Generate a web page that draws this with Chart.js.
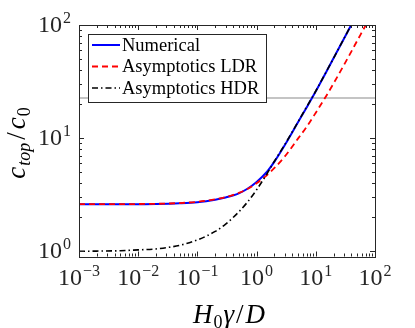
<!DOCTYPE html>
<html>
<head>
<meta charset="utf-8">
<script src="https://cdn.jsdelivr.net/npm/chart.js@4.4.0/dist/chart.umd.min.js"></script>
<style>
  html, body { margin: 0; padding: 0; background: #fff; }
  #wrap { width: 415px; height: 328px; }
</style>
</head>
<body>
<div id="wrap"><canvas id="chart" width="415" height="328"></canvas></div>
<script>
// values
const xVals = [0.001, 0.002, 0.005, 0.01, 0.02, 0.05, 0.1, 0.2, 0.3, 0.5, 0.7, 1, 1.5, 2, 3, 5, 7, 10, 15, 20, 30, 40, 50, 70, 100];
const numerical = [2.60, 2.60, 2.60, 2.61, 2.62, 2.66, 2.72, 2.86, 2.99, 3.25, 3.57, 4.1, 5.05, 6.2, 8.7, 13.8, 18.7, 26, 38.5, 51, 76, 101, 126, null, null];
const ldr = [2.61, 2.61, 2.61, 2.62, 2.63, 2.67, 2.74, 2.88, 3.01, 3.28, 3.56, 4.0, 4.72, 5.45, 6.9, 9.9, 12.6, 16.8, 23.6, 30.5, 44.5, 58.5, 72.5, 100, 142];
const hdr = [1.0, 1.005, 1.012, 1.03, 1.05, 1.13, 1.26, 1.5, 1.74, 2.23, 2.72, 3.5, 4.85, 6.25, 8.8, 13.9, 18.9, 26.1, 38.6, 51, 76, 101, 126, null, null];
const thresholdX = [0.001, 100];
const thresholdY = [22.6, 22.6];
const xDecades = [-3, -2, -1, 0, 1, 2];
const yDecades = [0, 1, 2];
const legendLabels = ['Numerical', 'Asymptotics LDR', 'Asymptotics HDR'];

const SERIF = '"Liberation Serif", "Times New Roman", serif';

function toPoints(xs, ys) {
  return xs.map((x, i) => ({ x: x, y: ys[i] }));
}

function minusExp(e) {
  return e < 0 ? '\u2212' + Math.abs(e) : String(e);
}

// draws "10" with a raised exponent; align is 'center' or 'right'
function drawPower(ctx, x, baseline, e, align) {
  const base = '10';
  const sup = minusExp(e);
  ctx.font = '24px ' + SERIF;
  const wb = ctx.measureText(base).width;
  ctx.font = '16px ' + SERIF;
  const ws = ctx.measureText(sup).width;
  const w = wb + ws + 1;
  let left = align === 'center' ? x - w / 2 : x - w;
  ctx.textAlign = 'left';
  ctx.textBaseline = 'alphabetic';
  ctx.font = '24px ' + SERIF;
  ctx.fillText(base, left, baseline);
  ctx.font = '16px ' + SERIF;
  ctx.fillText(sup, left + wb + 1, baseline - 9);
}

const matlabAxes = {
  id: 'matlabAxes',
  afterDatasetsDraw(chart) {
    const ctx = chart.ctx;
    const a = chart.chartArea;
    const xs = chart.scales.x;
    const ys = chart.scales.y;
    ctx.save();
    ctx.strokeStyle = '#262626';
    ctx.lineWidth = 1;

    // inward ticks on all four sides
    ctx.beginPath();
    for (let d = -3; d < 2; d++) {
      for (let m = 1; m < 10; m++) {
        const v = m * Math.pow(10, d);
        const px = Math.round(xs.getPixelForValue(v)) + 0.5;
        const len = m === 1 ? 5 : 3;
        ctx.moveTo(px, a.bottom); ctx.lineTo(px, a.bottom - len);
        ctx.moveTo(px, a.top); ctx.lineTo(px, a.top + len);
      }
    }
    for (let d = -1; d < 2; d++) {
      for (let m = 1; m < 10; m++) {
        const v = m * Math.pow(10, d);
        if (v < ys.min || v > ys.max) continue;
        const py = Math.round(ys.getPixelForValue(v)) + 0.5;
        const len = m === 1 ? 5 : 3;
        ctx.moveTo(a.left, py); ctx.lineTo(a.left + len, py);
        ctx.moveTo(a.right, py); ctx.lineTo(a.right - len, py);
      }
    }
    ctx.stroke();

    // box
    ctx.strokeRect(Math.round(a.left) + 0.5, Math.round(a.top) + 0.5,
      Math.round(a.right - a.left), Math.round(a.bottom - a.top));

    // tick labels
    ctx.fillStyle = '#262626';
    xDecades.forEach(e => {
      drawPower(ctx, xs.getPixelForValue(Math.pow(10, e)), a.bottom + 28, e, 'center');
    });
    yDecades.forEach(e => {
      drawPower(ctx, a.left - 8, ys.getPixelForValue(Math.pow(10, e)) + 7, e, 'right');
    });

    // x title: H_0 gamma / D
    ctx.fillStyle = '#000';
    ctx.textAlign = 'left';
    ctx.textBaseline = 'alphabetic';
    const xParts = [
      { t: 'H', f: 'italic 27px ' + SERIF, dy: 0, gap: 0 },
      { t: '0', f: '18px ' + SERIF, dy: 5, gap: 1 },
      { t: '\u03b3', f: 'italic 27px ' + SERIF, dy: 0, gap: 1 },
      { t: '/', f: '27px ' + SERIF, dy: 0, gap: 2 },
      { t: 'D', f: 'italic 27px ' + SERIF, dy: 0, gap: 2 }
    ];
    let tw = 0;
    xParts.forEach(p => { ctx.font = p.f; p.w = ctx.measureText(p.t).width; tw += p.w + p.gap; });
    let cx = (a.left + a.right) / 2 - tw / 2 + 2;
    xParts.forEach(p => { cx += p.gap; ctx.font = p.f; ctx.fillText(p.t, cx, 323 + p.dy); cx += p.w; });

    // y title: c_top / c_0 rotated
    const yParts = [
      { t: 'c', f: 'italic 27px ' + SERIF, dy: 0, gap: 0 },
      { t: 'top', f: 'italic 18px ' + SERIF, dy: 5, gap: 1 },
      { t: '/', f: '27px ' + SERIF, dy: 0, gap: 3 },
      { t: 'c', f: 'italic 27px ' + SERIF, dy: 0, gap: 3 },
      { t: '0', f: '18px ' + SERIF, dy: 5, gap: 1 }
    ];
    tw = 0;
    yParts.forEach(p => { ctx.font = p.f; p.w = ctx.measureText(p.t).width; tw += p.w + p.gap; });
    ctx.save();
    ctx.translate(25, 143);
    ctx.rotate(-Math.PI / 2);
    cx = -tw / 2;
    yParts.forEach(p => { cx += p.gap; ctx.font = p.f; ctx.fillText(p.t, cx, p.dy); cx += p.w; });
    ctx.restore();

    // legend box inside the axes
    const lx = 88, ly = 34, lw = 178, lh = 68;
    ctx.fillStyle = '#fff';
    ctx.fillRect(lx, ly, lw, lh);
    ctx.strokeStyle = '#262626';
    ctx.lineWidth = 1;
    ctx.strokeRect(lx + 0.5, ly + 0.5, lw, lh);
    const rows = [45, 66.5, 88];
    legendLabels.forEach((label, i) => {
      const ds = chart.data.datasets.find(d => d.label === label);
      ctx.save();
      ctx.strokeStyle = ds.borderColor;
      ctx.lineWidth = ds.borderWidth;
      ctx.setLineDash(ds.borderDash || []);
      ctx.beginPath();
      ctx.moveTo(92, rows[i]);
      ctx.lineTo(120, rows[i]);
      ctx.stroke();
      ctx.restore();
      ctx.fillStyle = '#000';
      ctx.font = '18.5px ' + SERIF;
      ctx.textAlign = 'left';
      ctx.textBaseline = 'middle';
      ctx.fillText(label, 122, rows[i] + 1);
    });
    ctx.restore();
  }
};

new Chart(document.getElementById('chart'), {
  type: 'line',
  data: {
    datasets: [
      {
        label: 'Numerical',
        data: toPoints(xVals, numerical),
        borderColor: '#0000ff',
        borderWidth: 2,
        order: 3
      },
      {
        label: 'Asymptotics LDR',
        data: toPoints(xVals, ldr),
        borderColor: '#ff0000',
        borderWidth: 1.8,
        borderDash: [6, 4],
        order: 2
      },
      {
        label: 'Asymptotics HDR',
        data: toPoints(xVals, hdr),
        borderColor: '#000000',
        borderWidth: 1.6,
        borderDash: [6, 3, 1.5, 3],
        order: 1
      },
      {
        label: 'threshold',
        data: toPoints(thresholdX, thresholdY),
        borderColor: '#b0b0b0',
        borderWidth: 1.5,
        order: 4
      }
    ]
  },
  options: {
    responsive: false,
    animation: false,
    devicePixelRatio: 1,
    layout: { padding: { left: 79, right: 40, top: 25, bottom: 71.5 } },
    elements: {
      point: { radius: 0 },
      line: { cubicInterpolationMode: 'monotone', fill: false }
    },
    plugins: {
      legend: { display: false },
      tooltip: { enabled: false }
    },
    scales: {
      x: {
        type: 'logarithmic',
        min: 0.001,
        max: 100,
        ticks: { display: false },
        grid: { display: false },
        border: { display: false },
        afterFit: s => { s.height = 0; }
      },
      y: {
        type: 'logarithmic',
        min: 0.9,
        max: 100,
        ticks: { display: false },
        grid: { display: false },
        border: { display: false },
        afterFit: s => { s.width = 0; }
      }
    }
  },
  plugins: [matlabAxes]
});
</script>
</body>
</html>
